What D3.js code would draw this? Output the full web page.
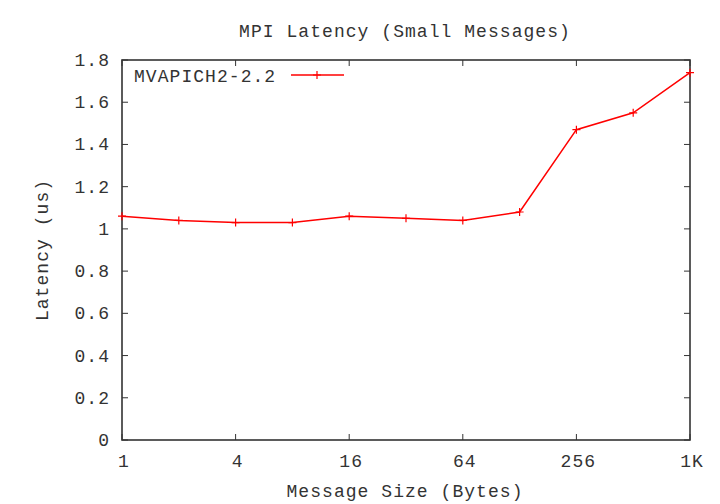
<!DOCTYPE html>
<html><head><meta charset="utf-8">
<script src="https://cdn.jsdelivr.net/npm/d3@7"></script>
<style>
body{margin:0;background:#fff}
text{font-family:"Liberation Mono","DejaVu Sans Mono",monospace;font-size:18px;fill:#333;letter-spacing:1.05px}
</style></head><body>
<svg id="c" width="720" height="504"></svg>
<script>
const sizes = [1,2,4,8,16,32,64,128,256,512,1024];
const latency = [1.06,1.04,1.03,1.03,1.06,1.05,1.04,1.08,1.47,1.55,1.74];
const xTicks = [1,4,16,64,256,1024];
const xTickLabels = ["1","4","16","64","256","1K"];
const yTicks = [0,0.2,0.4,0.6,0.8,1,1.2,1.4,1.6,1.8];
const seriesName = "MVAPICH2-2.2";

const svg = d3.select("#c");
const L=122,R=690,T=60,B=440;
const x = d3.scaleLog().base(2).domain([1,1024]).range([L,R]);
const y = d3.scaleLinear().domain([0,1.8]).range([B,T]);
const frame = "#333";
const tl = 6;

const g = svg.append("g");
yTicks.forEach(v=>{
  const yy=y(v);
  g.append("line").attr("x1",L).attr("x2",L+tl).attr("y1",yy).attr("y2",yy).attr("stroke",frame).attr("stroke-width",1);
  g.append("line").attr("x1",R).attr("x2",R-tl).attr("y1",yy).attr("y2",yy).attr("stroke",frame).attr("stroke-width",1);
  g.append("text").attr("x",110).attr("y",yy+6).attr("text-anchor","end").text(d3.format("~g")(v));
});
xTicks.forEach((v,i)=>{
  const xx=x(v);
  g.append("line").attr("x1",xx).attr("x2",xx).attr("y1",B).attr("y2",B-tl).attr("stroke",frame).attr("stroke-width",1);
  g.append("line").attr("x1",xx).attr("x2",xx).attr("y1",T).attr("y2",T+tl).attr("stroke",frame).attr("stroke-width",1);
  g.append("text").attr("x",xx+2).attr("y",467).attr("text-anchor","middle").text(xTickLabels[i]);
});
svg.append("rect").attr("x",L).attr("y",T).attr("width",R-L).attr("height",B-T)
  .attr("fill","none").attr("stroke",frame).attr("stroke-width",1.6);

const line = d3.line().x((d,i)=>x(sizes[i])).y(d=>y(d));
svg.append("path").datum(latency).attr("d",line).attr("fill","none").attr("stroke","#ff0000").attr("stroke-width",1.5);
const plus = (cx,cy,s)=>`M${cx-s},${cy}H${cx+s}M${cx},${cy-s}V${cy+s}`;
svg.append("g").selectAll("path").data(latency).join("path")
  .attr("d",(d,i)=>plus(x(sizes[i]),y(d),4)).attr("stroke","#ff0000").attr("stroke-width",1.2);

svg.append("text").attr("x",134).attr("y",82).text(seriesName);
svg.append("line").attr("x1",291).attr("x2",344).attr("y1",75).attr("y2",75).attr("stroke","#ff0000").attr("stroke-width",1.5);
svg.append("path").attr("d",plus(317,75,4)).attr("stroke","#ff0000").attr("stroke-width",1.2);

svg.append("text").attr("x",405).attr("y",37).attr("text-anchor","middle").text("MPI Latency (Small Messages)");
svg.append("text").attr("x",405).attr("y",497).attr("text-anchor","middle").text("Message Size (Bytes)");
svg.append("text").attr("transform","translate(48,250) rotate(-90)").attr("text-anchor","middle").text("Latency (us)");
</script></body></html>
